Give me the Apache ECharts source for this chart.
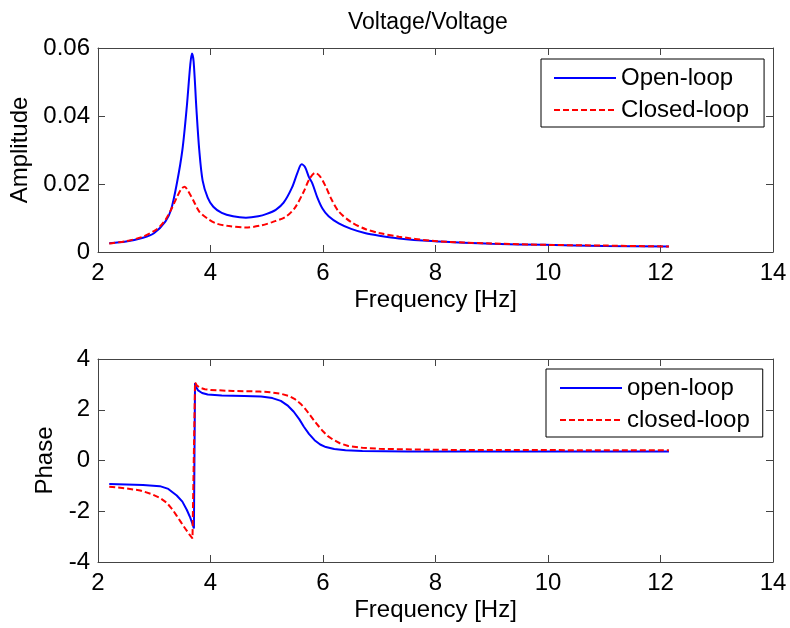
<!DOCTYPE html>
<html>
<head>
<meta charset="utf-8">
<script src="https://cdn.jsdelivr.net/npm/echarts@6/dist/echarts.min.js"></script>
<style>html,body{margin:0;padding:0;background:#fff;}#c{width:790px;height:628px;}</style>
</head>
<body>
<div id="c"></div>
<script>
// ---- Data ----
const titleText = 'Voltage/Voltage';
const xTicks = [2, 4, 6, 8, 10, 12, 14];

const ampFreqOpen = [2.2, 2.5, 2.8, 3.0, 3.2, 3.3, 3.4, 3.5, 3.58, 3.64, 3.67, 3.70, 3.75, 3.80, 3.86, 3.95, 4.05, 4.2, 4.4, 4.63, 4.85, 5.0, 5.16, 5.3, 5.45, 5.55, 5.62, 5.68, 5.75, 5.81, 5.9, 5.99, 6.1, 6.28, 6.5, 6.76, 7.0, 7.35, 7.93, 8.5, 9.0, 9.94, 11.0, 12.15];
const ampOpen = [0.0026, 0.0031, 0.0042, 0.0056, 0.0090, 0.0125, 0.0200, 0.0300, 0.0430, 0.0550, 0.0584, 0.0560, 0.0420, 0.0300, 0.0210, 0.0160, 0.0133, 0.0115, 0.0105, 0.0101, 0.0105, 0.0112, 0.0124, 0.0145, 0.0190, 0.0235, 0.0258, 0.0250, 0.0220, 0.0202, 0.0160, 0.0128, 0.0105, 0.0084, 0.0068, 0.0055, 0.0048, 0.0040, 0.0032, 0.0027, 0.0024, 0.0021, 0.0018, 0.0016];

const ampFreqClosed = [2.2, 2.5, 2.8, 3.0, 3.1, 3.2, 3.3, 3.4, 3.48, 3.54, 3.6, 3.7, 3.8, 3.95, 4.1, 4.3, 4.63, 4.9, 5.1, 5.34, 5.5, 5.65, 5.76, 5.86, 5.95, 6.05, 6.15, 6.28, 6.5, 6.76, 7.0, 7.35, 7.93, 8.5, 9.0, 10.0, 11.0, 12.15];
const ampClosed = [0.0025, 0.0032, 0.0045, 0.0062, 0.0075, 0.0095, 0.0125, 0.0160, 0.0185, 0.0192, 0.0180, 0.0150, 0.0119, 0.0098, 0.0084, 0.0077, 0.0072, 0.0078, 0.0088, 0.0104, 0.0130, 0.0175, 0.0215, 0.0233, 0.0222, 0.0192, 0.0155, 0.0119, 0.0088, 0.0067, 0.0056, 0.0045, 0.0033, 0.0028, 0.0025, 0.0021, 0.0019, 0.0016];

const phFreqOpen = [2.2, 2.5, 2.8, 3.1, 3.25, 3.4, 3.5, 3.58, 3.64, 3.68, 3.705, 3.725, 3.74, 3.78, 3.85, 3.95, 4.2, 4.6, 4.9, 5.1, 5.25, 5.38, 5.48, 5.58, 5.66, 5.75, 5.85, 5.95, 6.05, 6.2, 6.4, 6.7, 7.5, 9.0, 10.5, 12.15];
const phOpen = [-0.93, -0.95, -0.97, -1.01, -1.12, -1.38, -1.62, -1.95, -2.25, -2.50, -2.68, 3.05, 2.92, 2.76, 2.66, 2.60, 2.56, 2.54, 2.52, 2.46, 2.35, 2.15, 1.92, 1.62, 1.33, 1.05, 0.80, 0.63, 0.53, 0.45, 0.40, 0.37, 0.35, 0.35, 0.35, 0.35];

const phFreqClosed = [2.2, 2.5, 2.75, 2.95, 3.1, 3.22, 3.32, 3.4, 3.48, 3.55, 3.62, 3.68, 3.71, 3.725, 3.76, 3.82, 3.9, 4.0, 4.4, 4.87, 5.1, 5.25, 5.4, 5.5, 5.6, 5.69, 5.78, 5.86, 5.93, 6.0, 6.08, 6.18, 6.3, 6.45, 6.7, 7.0, 8.0, 10.0, 12.15];
const phClosed = [-1.03, -1.10, -1.18, -1.32, -1.47, -1.66, -1.92, -2.18, -2.45, -2.68, -2.90, -3.07, -3.10, 3.08, 2.95, 2.86, 2.81, 2.78, 2.74, 2.72, 2.68, 2.63, 2.54, 2.42, 2.24, 2.02, 1.76, 1.52, 1.33, 1.15, 0.97, 0.82, 0.68, 0.57, 0.50, 0.46, 0.42, 0.41, 0.40];

const zip = (xs, ys) => xs.map((x, i) => [x, ys[i]]);

const FONT = 'Liberation Sans';
const AX = '#444';

function xAx(grid, name, primary) {
  return {
    gridIndex: grid, type: 'value', min: xTicks[0], max: xTicks[xTicks.length - 1], interval: 2,
    position: primary ? 'bottom' : 'top',
    name: primary ? name : '', nameLocation: 'middle', nameGap: 36,
    nameTextStyle: { fontFamily: FONT, fontSize: 24, color: '#000' },
    axisLine: { show: true, onZero: false, lineStyle: { color: AX, width: 1 } },
    axisTick: { show: true, inside: true, length: 7, lineStyle: { color: AX } },
    axisLabel: { show: primary, fontFamily: FONT, fontSize: 24, color: '#000', margin: 9 },
    splitLine: { show: false }
  };
}
function yAx(grid, name, min, max, interval, gap, primary) {
  return {
    gridIndex: grid, type: 'value', min: min, max: max, interval: interval,
    position: primary ? 'left' : 'right',
    name: primary ? name : '', nameLocation: 'middle', nameGap: gap,
    nameTextStyle: { fontFamily: FONT, fontSize: 24, color: '#000' },
    axisLine: { show: true, onZero: false, lineStyle: { color: AX, width: 1 } },
    axisTick: { show: true, inside: true, length: 7, lineStyle: { color: AX } },
    axisLabel: { show: primary, fontFamily: FONT, fontSize: 24, color: '#000', margin: 8 },
    splitLine: { show: false }
  };
}

const legendBase = {
  orient: 'vertical', itemWidth: 62, itemHeight: 14, itemGap: 8,
  backgroundColor: '#fff', borderColor: '#000', borderWidth: 1, borderRadius: 0,
  textStyle: { fontFamily: FONT, fontSize: 24, color: '#000' },
  itemStyle: { opacity: 0 },
  selectedMode: false
};

const chart = echarts.init(document.getElementById('c'), null, { renderer: 'canvas' });
chart.setOption({
  animation: false,
  backgroundColor: '#fff',
  title: {
    text: titleText, left: 343, top: 6,
    textStyle: { fontFamily: FONT, fontSize: 23, fontWeight: 'normal', color: '#000' }
  },
  grid: [
    { left: 98, right: 17, top: 48, height: 204 },
    { left: 98, right: 17, top: 359, height: 203 }
  ],
  xAxis: [
    xAx(0, 'Frequency [Hz]', true), xAx(0, '', false),
    xAx(1, 'Frequency [Hz]', true), xAx(1, '', false)
  ],
  yAxis: [
    yAx(0, 'Amplitude', 0, 0.06, 0.02, 63, true), yAx(0, '', 0, 0.06, 0.02, 0, false),
    yAx(1, 'Phase', -4, 4, 2, 40, true), yAx(1, '', -4, 4, 2, 0, false)
  ],
  legend: [
    Object.assign({}, legendBase, { left: 541, top: 59, padding: [7, 15, 5, 12], data: ['Open-loop', 'Closed-loop'] }),
    Object.assign({}, legendBase, { left: 546, top: 369, padding: [7, 13, 5, 13], data: ['open-loop', 'closed-loop'] })
  ],
  series: [
    { type: 'line', name: 'Open-loop', xAxisIndex: 0, yAxisIndex: 0, data: zip(ampFreqOpen, ampOpen), symbol: 'none', smooth: 0.3,
      lineStyle: { color: '#0000ff', width: 2 }, itemStyle: { color: '#0000ff' } },
    { type: 'line', name: 'Closed-loop', xAxisIndex: 0, yAxisIndex: 0, data: zip(ampFreqClosed, ampClosed), symbol: 'none', smooth: 0.3,
      lineStyle: { color: '#ff0000', width: 2, type: [6, 3] }, itemStyle: { color: '#ff0000' } },
    { type: 'line', name: 'open-loop', xAxisIndex: 2, yAxisIndex: 2, data: zip(phFreqOpen, phOpen), symbol: 'none',
      lineStyle: { color: '#0000ff', width: 2 }, itemStyle: { color: '#0000ff' } },
    { type: 'line', name: 'closed-loop', xAxisIndex: 2, yAxisIndex: 2, data: zip(phFreqClosed, phClosed), symbol: 'none',
      lineStyle: { color: '#ff0000', width: 2, type: [6, 3] }, itemStyle: { color: '#ff0000' } }
  ]
});
</script>
</body>
</html>
